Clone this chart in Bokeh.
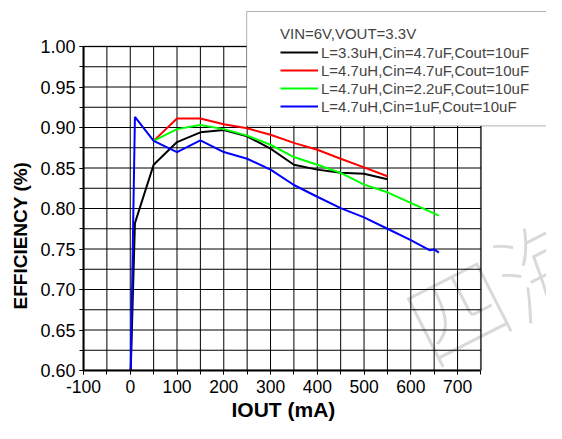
from bokeh.plotting import figure
from bokeh.models import (Range1d, FixedTicker, NumeralTickFormatter, Legend,
                          LegendItem, BoxAnnotation, Label, Title)
from bokeh.embed import file_html
from bokeh.resources import INLINE

FONT = "Liberation Sans"

# ---- data ----
x_ticks = [-100, 0, 100, 200, 300, 400, 500, 600, 700]
x_minor = [-100, -50, 0, 50, 100, 150, 200, 250, 300, 350, 400, 450, 500, 550, 600, 650, 700, 750]
y_ticks = [0.60, 0.65, 0.70, 0.75, 0.80, 0.85, 0.90, 0.95, 1.00]
y_minor = [0.600, 0.625, 0.650, 0.675, 0.700, 0.725, 0.750, 0.775, 0.800, 0.825,
           0.850, 0.875, 0.900, 0.925, 0.950, 0.975, 1.000]
x_lim = (-100, 750)
y_lim = (0.60, 1.00)

x_title = "IOUT (mA)"
y_title = "EFFICIENCY (%)"
legend_title = "VIN=6V,VOUT=3.3V"
labels = ["L=3.3uH,Cin=4.7uF,Cout=10uF",
          "L=4.7uH,Cin=4.7uF,Cout=10uF",
          "L=4.7uH,Cin=2.2uF,Cout=10uF",
          "L=4.7uH,Cin=1uF,Cout=10uF"]
colors = ["#000000", "#ff0000", "#00ff00", "#0000ff"]

x_black = [1, 10, 50, 100, 150, 200, 250, 300, 350, 400, 450, 500, 550]
y_black = [0.600, 0.782, 0.854, 0.882, 0.894, 0.897, 0.889, 0.874, 0.854, 0.848, 0.844, 0.843, 0.836]

x_red = [50, 100, 150, 200, 250, 300, 350, 400, 450, 500, 550]
y_red = [0.8835, 0.911, 0.911, 0.904, 0.899, 0.891, 0.881, 0.8725, 0.8614, 0.8508, 0.8398]

x_green = [50, 100, 150, 200, 250, 300, 350, 400, 450, 500, 550, 600, 660]
y_green = [0.8835, 0.898, 0.903, 0.898, 0.890, 0.8787, 0.8635, 0.854, 0.844, 0.8295, 0.820, 0.807, 0.7913]

x_blue = [1, 10, 50, 100, 150, 200, 250, 300, 350, 400, 450, 500, 550, 600, 640, 650, 660]
y_blue = [0.600, 0.913, 0.8835, 0.8696, 0.884, 0.8697, 0.8614, 0.848, 0.829, 0.8145, 0.8005,
          0.789, 0.775, 0.761, 0.7485, 0.7495, 0.7455]

series = [(x_black, y_black), (x_red, y_red), (x_green, y_green), (x_blue, y_blue)]

# ---- layout constants (pixels) ----
W, H = 546, 423
BL, BB = 80, 53                 # left / bottom borders (axes + titles)
PLOT_W, PLOT_H = 400, 324       # pixel size of the boxed plot area
frame_w, frame_h = W - BL, H - BB
x_end = x_lim[0] + frame_w * (x_lim[1] - x_lim[0]) / PLOT_W
y_end = y_lim[0] + frame_h * (y_lim[1] - y_lim[0]) / PLOT_H

p = figure(width=W, height=H, output_backend="svg", toolbar_location=None,
           x_range=Range1d(x_lim[0], x_end), y_range=Range1d(y_lim[0], y_end),
           min_border_left=BL, min_border_right=0, min_border_top=0, min_border_bottom=BB)
p.background_fill_color = "white"
p.border_fill_color = "white"
p.outline_line_color = None
p.xgrid.visible = False
p.ygrid.visible = False

p.xaxis.ticker = FixedTicker(ticks=x_ticks, minor_ticks=x_minor)
p.yaxis.ticker = FixedTicker(ticks=y_ticks, minor_ticks=y_minor)
p.xaxis.formatter = NumeralTickFormatter(format="0")
p.yaxis.formatter = NumeralTickFormatter(format="0.00")
p.xaxis.bounds = x_lim
p.yaxis.bounds = y_lim

for ax in (p.xaxis, p.yaxis):
    ax.axis_line_color = "black"
    ax.axis_line_width = 2
    ax.major_tick_line_color = "black"
    ax.minor_tick_line_color = "black"
    ax.major_tick_in = 0
    ax.major_tick_out = 4
    ax.minor_tick_in = 0
    ax.minor_tick_out = 4
    ax.major_label_text_font = FONT
    ax.major_label_text_color = "black"
p.xaxis.major_label_text_font_size = "17.5px"
p.yaxis.major_label_text_font_size = "18px"
p.xaxis.major_label_standoff = 5
p.yaxis.major_label_standoff = 4

# axis titles positioned along the boxed plot area
p.add_layout(Title(text=x_title, align="left", offset=148, standoff=0,
                   text_font=FONT, text_font_size="21px", text_font_style="bold",
                   text_color="black"), "below")
p.add_layout(Title(text=y_title, align="left", offset=61, standoff=14,
                   text_font=FONT, text_font_size="19px", text_font_style="bold",
                   text_color="black"), "left")

# grid lines limited to the boxed plot area (from the tick lists)
p.segment(x0=x_minor, y0=[y_lim[0]] * len(x_minor), x1=x_minor, y1=[y_lim[1]] * len(x_minor),
          line_color="black", line_width=1, level="underlay")
p.segment(x0=[x_lim[0]] * len(y_minor), y0=y_minor, x1=[x_lim[1]] * len(y_minor), y1=y_minor,
          line_color="black", line_width=1, level="underlay")

# watermark
p.add_layout(Label(x=792, y=0.706, text="四海", angle=27, angle_units="deg",
                   text_font="Noto Sans CJK SC", text_font_size="100px", text_color="#d9d9d9",
                   text_align="center", text_baseline="middle", level="image"))

renderers = []
for (xs, ys), c in zip(series, colors):
    r = p.line(xs, ys, line_color=c, line_width=2)
    renderers.append(r)

# box around plot area
p.add_layout(BoxAnnotation(left=x_lim[0], right=x_lim[1], bottom=y_lim[0], top=y_lim[1],
                           fill_alpha=0, line_color="black", line_width=2))

# legend box
p.add_layout(BoxAnnotation(left=249, right=x_end + 20, top=1.0432, bottom=0.902,
                           fill_color="white", fill_alpha=1.0,
                           line_color="black", line_width=1))

legend = Legend(items=[LegendItem(label=l, renderers=[r]) for l, r in zip(labels, renderers)],
                title=legend_title, location=(197, 255))
legend.border_line_alpha = 0
legend.background_fill_alpha = 0
legend.padding = 0
legend.margin = 0
legend.spacing = 0
legend.label_text_font = FONT
legend.label_text_font_size = "15px"
legend.title_text_font = FONT
legend.title_text_font_size = "15px"
legend.title_text_font_style = "normal"
legend.glyph_width = 38
legend.glyph_height = 18
legend.label_height = 18
legend.label_standoff = 3
legend.title_standoff = 1
p.add_layout(legend, "center")

open("out.html", "w").write(file_html(p, INLINE))
